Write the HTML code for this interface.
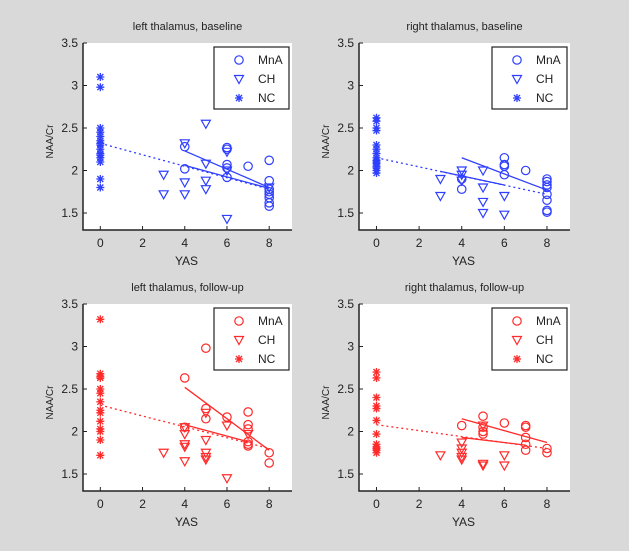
<!DOCTYPE html>
<html><head><meta charset="utf-8"><style>
html,body{margin:0;padding:0;background:#d9d9d9;}
svg{display:block;font-family:"Liberation Sans",sans-serif;}
</style></head><body>
<svg id="fig" width="629" height="551" viewBox="0 0 629 551">
<rect x="0" y="0" width="629" height="551" fill="#d9d9d9"/>
</svg>
<script>
const tlNC=[3.1,2.98,2.5,2.45,2.4,2.35,2.32,2.3,2.25,2.2,2.18,2.15,2.1,1.9,1.8];
const tlMnAx=[4,4,6,6,6,6,6,7,8,8,8,8,8,8,8,8];
const tlMnAy=[2.28,2.02,2.27,2.25,2.07,2.03,1.92,2.05,2.12,1.88,1.78,1.75,1.72,1.68,1.62,1.58];
const tlCHx=[3,3,4,4,4,5,5,5,5,6,6,6,8];
const tlCHy=[1.95,1.72,2.32,1.86,1.72,2.55,2.08,1.88,1.78,2.22,1.43,2.0,1.8];
const tlLines=[[0,2.32,8,1.78,'d'],[4,2.23,8,1.80,'s'],[4,2.06,8,1.79,'s']];

const trNC=[2.62,2.58,2.5,2.47,2.3,2.25,2.2,2.15,2.12,2.1,2.08,2.05,2.03,2.0,1.97];
const trMnAx=[4,4,6,6,6,6,7,8,8,8,8,8,8,8,8];
const trMnAy=[1.78,1.9,2.15,2.07,2.05,1.95,2.0,1.9,1.87,1.83,1.8,1.72,1.65,1.53,1.51];
const trCHx=[3,3,4,4,4,5,5,5,5,6,6];
const trCHy=[1.9,1.7,2.0,1.95,1.88,2.0,1.8,1.63,1.5,1.7,1.48];
const trLines=[[0,2.15,8,1.72,'d'],[4,2.15,8,1.77,'s'],[3,1.99,6,1.83,'s']];

const blNC=[3.32,2.68,2.65,2.63,2.5,2.45,2.35,2.25,2.22,2.12,2.03,2.0,1.9,1.72];
const blMnAx=[4,4,5,5,5,6,7,7,7,7,7,7,8,8];
const blMnAy=[2.63,2.05,2.98,2.27,2.15,2.17,2.23,2.08,2.03,1.88,1.85,1.83,1.75,1.63];
const blCHx=[3,4,4,4,4,4,5,5,5,5,5,6,6,7];
const blCHy=[1.75,2.05,1.97,1.85,1.82,1.65,2.22,1.9,1.75,1.7,1.67,2.07,1.45,1.97];
const blLines=[[0,2.31,8,1.8,'d'],[4,2.52,8,1.78,'s'],[4,2.08,7,1.88,'s']];

const brNC=[2.7,2.63,2.4,2.3,2.27,2.13,1.97,1.85,1.82,1.8,1.78,1.75];
const brMnAx=[4,5,5,5,5,6,7,7,7,7,7,8,8];
const brMnAy=[2.07,2.18,2.05,2.0,1.97,2.1,2.07,2.05,1.93,1.85,1.78,1.8,1.75];
const brCHx=[3,4,4,4,4,4,5,5,5,6,6];
const brCHy=[1.72,1.87,1.8,1.75,1.7,1.67,2.07,1.62,1.6,1.72,1.6];
const brLines=[[0,2.08,8,1.8,'d'],[4,2.15,8,1.87,'s'],[4,1.93,7,1.84,'s']];

const xTicks=[0,2,4,6,8];
const yTicks=[1.5,2,2.5,3,3.5];
const yTickLabels=['1.5','2','2.5','3','3.5'];

const NS='http://www.w3.org/2000/svg';
const svg=document.getElementById('fig');
function el(tag,attrs,parent){const e=document.createElementNS(NS,tag);for(const k in attrs)e.setAttribute(k,attrs[k]);(parent||svg).appendChild(e);return e;}

function panel(id,L,T,W,H,title,color,nc,mx,my,cx,cy,lines){
  const g=el('g',{});
  
  
  const xmin=-0.82,xmax=9.08,ymin=1.3,ymax=3.5;
  const X=v=>L+(v-xmin)/(xmax-xmin)*W;
  const Y=v=>T+H-(v-ymin)/(ymax-ymin)*H;
  const bg=el('rect',{x:L,y:T,width:W,height:H,fill:'#fff'},g);
  
  
  const ax=el('path',{d:`M${L},${T} V${T+H} H${L+W}`,stroke:'#222',fill:'none','stroke-width':1.5},g);
  
  
  xTicks.forEach(t=>{
    el('line',{x1:X(t),x2:X(t),y1:T+H,y2:T+H-4,stroke:'#222'},g);
    const tx=el('text',{x:X(t),y:T+H+17,'text-anchor':'middle','font-size':12,fill:'#222'},g);
    tx.textContent=t;
    
    
  });
  yTicks.forEach((t,i)=>{
    el('line',{x1:L,x2:L+4,y1:Y(t),y2:Y(t),stroke:'#222'},g);
    const tx=el('text',{x:L-5,y:Y(t)+4,'text-anchor':'end','font-size':12,fill:'#222'},g);
    tx.textContent=yTickLabels[i];
    
    
  });
  const tt=el('text',{x:L+W/2,y:T-13,'text-anchor':'middle','font-size':11,fill:'#222'},g);
  tt.textContent=title;
  
  
  const xl=el('text',{x:L+W/2-1,y:T+H+35,'text-anchor':'middle','font-size':12,fill:'#222'},g);
  xl.textContent='YAS';
  
  
  const yx=L-30,yy=T+H/2+5;
  const yl=el('text',{x:yx,y:yy,'text-anchor':'middle','font-size':10,fill:'#222',transform:`rotate(-90 ${yx} ${yy})`},g);
  yl.textContent='NAA/Cr';
  
  
  lines.forEach(l=>{
    const ln=el('line',{x1:X(l[0]),y1:Y(l[1]),x2:X(l[2]),y2:Y(l[3]),stroke:color,'stroke-width':1.3},g);
    if(l[4]==='d')ln.setAttribute('stroke-dasharray','2,3');
    
    
  });
  function circ(x,y,p){const c=el('circle',{cx:x,cy:y,r:4.2,fill:'none',stroke:color,'stroke-width':1.2},p);return c;}
  function tri(x,y,p){return el('path',{d:`M${x-4.5},${y-3.5} H${x+4.5} L${x},${y+4.5} Z`,fill:'none',stroke:color,'stroke-width':1.2},p);}
  function star(x,y,p){return el('path',{d:`M${x-4},${y} H${x+4} M${x},${y-4} V${y+4} M${x-3},${y-3} L${x+3},${y+3} M${x-3},${y+3} L${x+3},${y-3}`,stroke:color,'stroke-width':1.3,fill:'none'},p);}
  nc.forEach(v=>{const m=star(X(0),Y(v),g);
    
    });
  mx.forEach((v,i)=>{const m=circ(X(v),Y(my[i]),g);
    
    });
  cx.forEach((v,i)=>{const m=tri(X(v),Y(cy[i]),g);
    
    });
  // legend
  const lx=L+W-78,ly=T+4;
  const lg=el('g',{},g);
  
  
  el('rect',{x:lx,y:ly,width:75,height:62,fill:'#fff',stroke:'#222','stroke-width':1.2},lg);
  const names=['MnA','CH','NC'];
  names.forEach((n,i)=>{
    const yy2=ly+13+i*19;
    if(i===0)circ(lx+25,yy2,lg);else if(i===1)tri(lx+25,yy2,lg);else star(lx+25,yy2,lg);
    const t=el('text',{x:lx+44,y:yy2+4,'font-size':12,fill:'#222'},lg);
    t.textContent=n;
    
    
  });
}
panel('left-baseline',83,43,209,187,'left thalamus, baseline','#2f3fff',tlNC,tlMnAx,tlMnAy,tlCHx,tlCHy,tlLines);
panel('right-baseline',359,43,211,187,'right thalamus, baseline','#2f3fff',trNC,trMnAx,trMnAy,trCHx,trCHy,trLines);
panel('left-followup',83,304,209,187,'left thalamus, follow-up','#ff2a2a',blNC,blMnAx,blMnAy,blCHx,blCHy,blLines);
panel('right-followup',359,304,211,187,'right thalamus, follow-up','#ff2a2a',brNC,brMnAx,brMnAy,brCHx,brCHy,brLines);
</script>
</body></html>
